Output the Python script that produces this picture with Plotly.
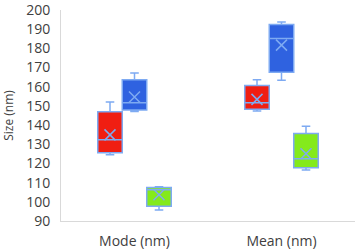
import plotly.graph_objects as go

categories = ["Mode (nm)", "Mean (nm)"]
series_names = ["A", "B", "C"]
series_colors = ["#f01e12", "#2f62e0", "#84ea1c"]

# per series: values for [Mode, Mean]
lowerfence = [[124.5, 147.4], [147.1, 163.4], [95.7, 116.6]]
q1 = [[125.6, 148.3], [147.9, 167.6], [97.7, 117.8]]
median = [[132.3, 151.7], [151.7, 185.1], [106.3, 122.5]]
q3 = [[147.0, 160.6], [163.7, 192.5], [107.5, 135.6]]
upperfence = [[152.0, 163.7], [167.1, 193.7], [107.8, 139.4]]
means = [[134.9, 153.4], [154.6, 181.7], [103.7, 125.1]]

edge = "#7eaaf2"
box_w = 1 / 6
n = len(series_names)

fig = go.Figure()
for i, name in enumerate(series_names):
    xs = [c + (i - (n - 1) / 2) * box_w for c in range(len(categories))]
    fig.add_trace(go.Box(
        x=xs, q1=q1[i], median=median[i], q3=q3[i],
        lowerfence=lowerfence[i], upperfence=upperfence[i],
        name=name, fillcolor=series_colors[i],
        line=dict(color=edge, width=1.5), width=box_w,
        whiskerwidth=0.35, boxpoints=False, showlegend=False,
        hoverinfo="skip",
    ))
    fig.add_trace(go.Scatter(
        x=xs, y=means[i], mode="markers", showlegend=False,
        marker=dict(symbol="x-thin", size=11, line=dict(color=edge, width=1.5)),
        hoverinfo="skip",
    ))

font = "Open Sans, Liberation Sans, sans-serif"
fig.update_layout(
    template="none",
    width=357, height=251,
    margin=dict(l=61, r=2, t=10, b=30),
    paper_bgcolor="white", plot_bgcolor="white",
    font=dict(family=font, color="#404040", size=14),
    xaxis=dict(
        automargin=False,
        range=[-0.5, len(categories) - 0.5], tickvals=list(range(len(categories))),
        ticktext=categories, showgrid=False, zeroline=False,
        showline=True, linecolor="#d9d9d9", linewidth=1,
        ticks="outside", ticklen=7, tickcolor="rgba(0,0,0,0)",
        tickfont=dict(size=14), ticklabeloverflow="allow",
    ),
    yaxis=dict(
        automargin=False,
        range=[90, 200], dtick=10, showgrid=False, zeroline=False,
        showline=True, linecolor="#d9d9d9", linewidth=1,
        ticks="outside", ticklen=7, tickcolor="rgba(0,0,0,0)",
        tickfont=dict(size=14), ticklabeloverflow="allow",
        title=dict(text="Size (nm)", font=dict(size=12), standoff=10),
    ),
)

fig.write_html(
    "out.html",
    config={"displayModeBar": False},
    post_script="document.body.style.margin='0';document.body.style.overflow='hidden';",
)
